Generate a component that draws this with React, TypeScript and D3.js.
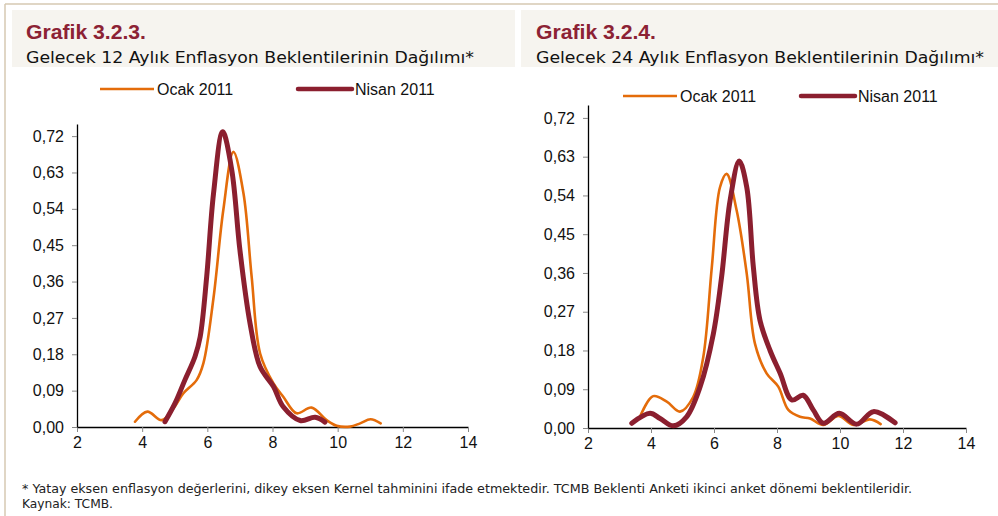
import { useEffect, useRef } from "react";
import * as d3 from "d3";

// Kernel density estimates (x: inflation %, y: density)
const ocak12X = [3.78, 4.16, 4.6, 4.96, 5.26, 5.67, 5.88, 6.19, 6.49, 6.8, 7.11, 7.36, 7.62, 8.03, 8.33, 8.74, 9.2, 9.66, 9.97, 10.38, 10.69, 11.01, 11.32];
const ocak12Y = [0.013, 0.038, 0.017, 0.046, 0.083, 0.116, 0.158, 0.32, 0.537, 0.681, 0.578, 0.372, 0.182, 0.108, 0.075, 0.034, 0.048, 0.017, 0.003, 0.001, 0.009, 0.019, 0.009];
const nisan12X = [4.7, 5.01, 5.31, 5.62, 5.78, 5.98, 6.19, 6.47, 6.75, 7.0, 7.31, 7.62, 8.03, 8.33, 8.85, 9.31, 9.61];
const nisan12Y = [0.013, 0.059, 0.116, 0.174, 0.223, 0.372, 0.578, 0.731, 0.636, 0.438, 0.257, 0.149, 0.1, 0.05, 0.016, 0.024, 0.012];

const ocak24X = [3.65, 4.07, 4.5, 4.92, 5.34, 5.66, 5.93, 6.19, 6.4, 6.72, 7.04, 7.3, 7.67, 8.04, 8.36, 8.73, 9.05, 9.47, 9.95, 10.42, 10.95, 11.29];
const ocak24Y = [0.026, 0.074, 0.061, 0.038, 0.072, 0.165, 0.373, 0.559, 0.59, 0.505, 0.358, 0.196, 0.127, 0.096, 0.042, 0.026, 0.022, 0.007, 0.028, 0.007, 0.02, 0.009];
const nisan24X = [3.39, 3.97, 4.29, 4.71, 5.13, 5.56, 5.98, 6.24, 6.51, 6.8, 7.04, 7.25, 7.46, 7.78, 8.1, 8.47, 8.83, 9.15, 9.47, 9.98, 10.53, 11.06, 11.75];
const nisan24Y = [0.011, 0.034, 0.022, 0.005, 0.026, 0.096, 0.219, 0.35, 0.528, 0.62, 0.559, 0.373, 0.25, 0.18, 0.127, 0.065, 0.076, 0.042, 0.011, 0.034, 0.009, 0.038, 0.012];

const xTicks = [2, 4, 6, 8, 10, 12, 14];
const yTicks = [0, 0.09, 0.18, 0.27, 0.36, 0.45, 0.54, 0.63, 0.72];
const seriesNames = ["Ocak 2011", "Nisan 2011"];

const ORANGE = "#e46c0a";
const MAROON = "#8b1f2f";
const TITLE_RED = "#8c2234";
const TAN = "#d6c9b2";
const BOX = "#f6f4ef";
const ARIAL = "'Liberation Sans', Arial, sans-serif";

const fmt = (v: number) => v.toFixed(2).replace(".", ",");

function drawPanel(svg: any, opts: any) {
  const { left, right, top, bottom, series, title, subtitle, titleX, boxX0, boxX1, legend } = opts;

  // header box
  svg.append("rect").attr("x", boxX0).attr("y", 10).attr("width", boxX1 - boxX0).attr("height", 57).attr("fill", BOX);
  svg.append("text").attr("x", titleX).attr("y", 39)
    .attr("fill", TITLE_RED).style("font-family", ARIAL)
    .style("font-weight", "bold").style("font-size", "21px")
    .attr("textLength", 120).attr("lengthAdjust", "spacingAndGlyphs").text(title);
  svg.append("text").attr("x", titleX).attr("y", 63)
    .attr("fill", "#111").style("font-family", "'DejaVu Sans', sans-serif")
    .style("font-size", "16px")
    .attr("textLength", 448).attr("lengthAdjust", "spacingAndGlyphs").text(subtitle);

  // legend
  const lg = svg.append("g").style("font-family", ARIAL).style("font-size", "16px");
  legend.forEach((l: any, i: number) => {
    lg.append("line").attr("x1", l.x0).attr("x2", l.x0 + 54).attr("y1", l.y).attr("y2", l.y)
      .attr("stroke", i === 0 ? ORANGE : MAROON).attr("stroke-width", i === 0 ? 2.5 : 4.5)
      .attr("stroke-linecap", i === 0 ? "butt" : "round");
    lg.append("text").attr("x", l.x0 + 57).attr("y", l.y + 5.5).attr("fill", "#111").text(seriesNames[i]);
  });

  const x = d3.scaleLinear().domain([2, 14]).range([left, right]);
  const y = d3.scaleLinear().domain([0, 0.75]).range([bottom, top]);

  const g = svg.append("g");

  // x axis
  const xa = g.append("g").attr("transform", `translate(0,${bottom})`)
    .call(d3.axisBottom(x).tickValues(xTicks).tickSizeInner(5).tickSizeOuter(0).tickPadding(5).tickFormat((d: any) => String(d)));
  xa.attr("font-size", null).attr("font-family", null);
  xa.select(".domain").attr("stroke", "#000").attr("stroke-width", 1.3);
  xa.selectAll(".tick line").attr("stroke", "#888");
  xa.selectAll("text").attr("fill", "#111").attr("font-size", 16).attr("font-family", ARIAL);

  // y axis
  const ya = g.append("g").attr("transform", `translate(${left},0)`)
    .call(d3.axisLeft(y).tickValues(yTicks).tickSizeInner(5).tickSizeOuter(0).tickPadding(8).tickFormat((d: any) => fmt(d)));
  ya.attr("font-size", null).attr("font-family", null);
  ya.select(".domain").attr("stroke", "#000").attr("stroke-width", 1.3);
  ya.selectAll(".tick line").attr("stroke", "#888");
  ya.selectAll("text").attr("fill", "#111").attr("font-size", 16).attr("font-family", ARIAL);

  const line = d3.line<[number, number]>()
    .x(d => x(d[0])).y(d => y(d[1]))
    .curve(d3.curveCatmullRom.alpha(0.5));

  series.forEach((s: any, i: number) => {
    const pts = s.xs.map((v: number, j: number) => [v, s.ys[j]] as [number, number]);
    g.append("path").attr("d", line(pts)).attr("fill", "none")
      .attr("stroke", i === 0 ? ORANGE : MAROON)
      .attr("stroke-width", i === 0 ? 2.6 : 5)
      .attr("stroke-linejoin", "round").attr("stroke-linecap", "round");
  });
}

export default function App() {
  const ref = useRef<SVGSVGElement>(null);

  useEffect(() => {
    const svg = d3.select(ref.current);
    svg.selectAll("*").remove();

    svg.append("rect").attr("width", 998).attr("height", 516).attr("fill", "#fff");
    // frame lines
    svg.append("line").attr("x1", 5).attr("x2", 998).attr("y1", 4).attr("y2", 4).attr("stroke", TAN).attr("stroke-width", 1.5);
    svg.append("line").attr("x1", 5).attr("x2", 5).attr("y1", 4).attr("y2", 516).attr("stroke", TAN).attr("stroke-width", 1.5);

    drawPanel(svg, {
      left: 77, right: 468, top: 124, bottom: 427,
      title: "Grafik 3.2.3.",
      subtitle: "Gelecek 12 Aylık Enflasyon Beklentilerinin Dağılımı*",
      titleX: 26, boxX0: 12, boxX1: 515,
      legend: [{ x0: 100, y: 89 }, { x0: 298, y: 89 }],
      series: [{ xs: ocak12X, ys: ocak12Y }, { xs: nisan12X, ys: nisan12Y }],
    });
    drawPanel(svg, {
      left: 588, right: 966, top: 105, bottom: 428,
      title: "Grafik 3.2.4.",
      subtitle: "Gelecek 24 Aylık Enflasyon Beklentilerinin Dağılımı*",
      titleX: 536, boxX0: 521, boxX1: 998,
      legend: [{ x0: 623, y: 96 }, { x0: 801, y: 96 }],
      series: [{ xs: ocak24X, ys: ocak24Y }, { xs: nisan24X, ys: nisan24Y }],
    });

    const foot = svg.append("g").style("font-family", "'DejaVu Sans', sans-serif").style("font-size", "12px").attr("fill", "#222");
    foot.append("text").attr("x", 22).attr("y", 493)
      .attr("textLength", 890).attr("lengthAdjust", "spacingAndGlyphs")
      .text("* Yatay eksen enflasyon değerlerini, dikey eksen Kernel tahminini ifade etmektedir. TCMB Beklenti Anketi ikinci anket dönemi beklentileridir.");
    foot.append("text").attr("x", 22).attr("y", 508)
      .attr("textLength", 91).attr("lengthAdjust", "spacingAndGlyphs")
      .text("Kaynak: TCMB.");
  }, []);

  return (
    <svg ref={ref} width={998} height={516}
      style={{ position: "absolute", left: 0, top: 0, display: "block" }} />
  );
}
